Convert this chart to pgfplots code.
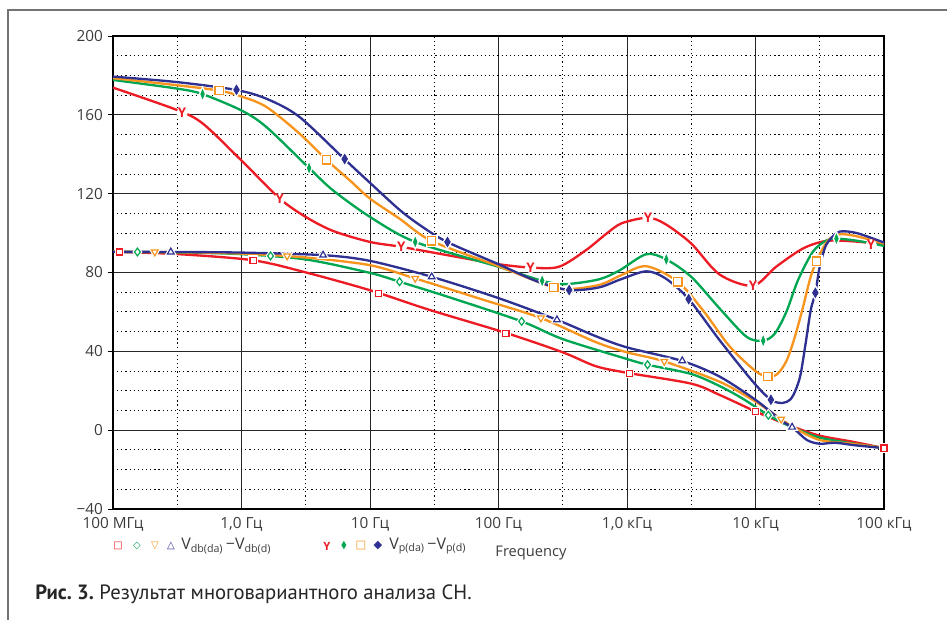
\documentclass[border=0pt]{standalone}
\usepackage{fontspec}
\setmainfont{Open Sans}
\newfontfamily\capfont{PT Sans}
\newfontfamily\symfont{DejaVu Sans}
\usepackage{pgfplots}
\pgfplotsset{compat=1.18}
\definecolor{cred}{HTML}{ED1C24}
\definecolor{cgreen}{HTML}{00A651}
\definecolor{corange}{HTML}{F7941D}
\definecolor{cblue}{HTML}{2E3192}
\definecolor{ctext}{HTML}{3C3C3C}
\pgfplotstableread{
x y
-0.948 90.4
0.09 86.2
1.064 69.2
2.058 49.2
3.02 28.9
4.0 9.5
5.0 -9.1
}\mkRdb
\pgfplotstableread{
x y
-0.81 90.4
0.226 88.4
1.23 75.3
2.18 55.2
3.16 33.2
4.1 7.6
}\mkGdb
\pgfplotstableread{
x y
-0.675 90.4
0.355 88.4
1.352 77
2.33 56.9
3.29 34.9
4.2 5.6
}\mkOdb
\pgfplotstableread{
x y
-0.55 90.4
0.635 88.8
1.48 77.8
2.455 56
3.43 35.2
4.285 1.5
}\mkBdb
\pgfplotstableread{
x y
-0.463 160.9
0.298 117.5
1.244 93
2.25 82.5
3.163 107.8
3.98 73.3
4.9 94
}\mkRp
\pgfplotstableread{
x y
-0.303 170.5
0.526 133
1.352 95.5
2.34 75.8
3.306 86.6
4.06 45.4
4.63 97.2
}\mkGp
\pgfplotstableread{
x y
-0.174 172.3
0.661 137.2
1.48 96
2.43 72.4
3.396 75.3
4.096 27.2
4.476 85.7
}\mkOp
\pgfplotstableread{
x y
-0.039 172.7
0.803 137.6
1.603 95.5
2.55 71.1
3.48 66.5
4.12 15.4
4.466 69.7
}\mkBp
\begin{document}
\begin{tikzpicture}
\begin{scope}[x=0.75pt,y=-0.75pt]
\path[use as bounding box] (0,0) rectangle (947,620);
\draw[black!55, line width=0.8pt] (8,620) -- (8,10) -- (947,10);
\end{scope}
\begin{axis}[
  at={(84.75pt,-381.75pt)}, anchor=south west,
  width=578.25pt, height=354.75pt, scale only axis,
  xmin=-1, xmax=5, ymin=-40, ymax=200,
  xtick={-1,0,1,2,3,4,5},
  xticklabels={100 МГц,{1,0 Гц},10 Гц,100 Гц,{1,0 кГц},10 кГц,100 кГц},
  minor xtick={-0.5,0.5,1.5,2.5,3.5,4.5},
  ytick={-40,0,40,80,120,160,200},
  yticklabels={−40,0,40,80,120,160,200},
  minor ytick={-30,-20,-10,10,20,30,50,60,70,90,100,110,130,140,150,170,180,190},
  grid=both,
  major grid style={black!85, line width=0.6pt},
  minor grid style={black, line width=0.65pt, dash pattern=on 0.9pt off 2.2pt},
  tick align=outside, ytick pos=left, xtick pos=bottom,
  major tick length=4pt, minor tick length=0pt,
  xtick style={draw=none},
  ytick style={black, line width=0.6pt},
  axis line style={black, line width=1.2pt},
  ticklabel style={font=\fontsize{11.5}{13}\selectfont, text=ctext},
  xticklabel style={yshift=1pt},
  every axis plot/.append style={line width=1.75pt},
]
% ---------------- Vdb curves ----------------
\addplot[cred, smooth] coordinates {
(-1.0,90.5) (-0.49,89.3) (0.09,86.2) (0.503,80) (1.0,71) (1.46,61.1)
(2.06,49.3) (2.5,39.5) (2.76,32.4) (3.02,28.9) (3.5,23.6) (3.72,17.9)
(4.0,9.5) (4.2,4) (4.3,1.5) (4.5,-2.8) (4.75,-5.8) (5.0,-9.1)};
\addplot[cgreen, smooth] coordinates {
(-1.0,90.5) (-0.5,90.2) (0.0,89.3) (0.503,86.6) (1.0,79.8) (1.23,75.3)
(1.6,67.8) (2.18,55.2) (2.5,46.2) (3.0,36.1) (3.16,33.2) (3.5,28.5)
(3.72,22.4) (3.9,16) (4.1,7.6) (4.25,2.5) (4.32,0.5) (4.5,-3.8) (4.75,-6.7) (5.0,-9.1)};
\addplot[corange, smooth] coordinates {
(-1.0,90.5) (-0.5,90.3) (0.0,89.6) (0.5,87.6) (1.0,83.7) (1.352,77)
(1.88,66.2) (2.33,56.9) (2.76,44.6) (3.0,39.5) (3.29,34.9) (3.72,24.6)
(4.0,14.5) (4.2,5.6) (4.3,1.2) (4.5,-5) (4.75,-6.9) (5.0,-9.1)};
\addplot[cblue, smooth] coordinates {
(-1.0,90.5) (-0.5,90.4) (0.0,90.1) (0.635,88.8) (1.0,85.9) (1.48,77.8)
(2.0,67) (2.455,56) (2.76,47.6) (3.0,42) (3.43,35.1) (3.72,27.2)
(4.0,15.4) (4.2,5) (4.29,1.3) (4.4,-5) (4.5,-6.9) (4.62,-6.4) (4.78,-7.7) (5.0,-9.1)};
% ---------------- Vp curves ----------------
\addplot[cred, smooth] coordinates {
(-1.0,173.8) (-0.5,162.4) (-0.3,155.5) (0.0,136.8) (0.298,117.5) (0.5,108.2)
(0.712,101.1) (1.0,95.5) (1.244,93) (1.746,87.1) (2.0,84.2) (2.25,82.5)
(2.47,82.9) (2.68,91.3) (2.84,99.7) (2.96,105) (3.163,107.8) (3.3,104.5)
(3.5,94.7) (3.72,79) (3.98,73.3) (4.16,82.9) (4.37,92.2) (4.55,96)
(4.76,95.8) (5.0,94.3)};
\addplot[cgreen, smooth] coordinates {
(-1.0,177.7) (-0.5,173.3) (-0.303,170.5) (0.0,162.2) (0.194,153.8) (0.526,133)
(0.712,121.7) (1.0,108.2) (1.352,95.5) (2.0,82.9) (2.34,75.8) (2.52,74.1)
(2.78,76.5) (2.94,81) (3.15,89.3) (3.306,86.6) (3.5,77.8) (3.72,61.8)
(3.93,47.4) (4.06,45.4) (4.15,49) (4.24,60) (4.33,76) (4.446,90.5)
(4.55,96.2) (4.63,97.2) (4.8,96) (5.0,93.5)};
\addplot[corange, smooth] coordinates {
(-1.0,178.6) (-0.5,175) (-0.174,172.3) (0.0,169.3) (0.194,164) (0.453,150.4)
(0.661,137.2) (0.842,126.8) (1.0,117.5) (1.23,107.3) (1.48,96) (2.0,83.2)
(2.43,72.4) (2.6,71.8) (2.8,74) (2.95,78.5) (3.15,83.2) (3.396,75.3)
(3.59,60.9) (3.8,42.4) (4.0,30) (4.096,27.2) (4.17,28.5) (4.24,35)
(4.30,46) (4.36,60) (4.43,78) (4.476,85.7) (4.53,93) (4.58,97.2)
(4.66,99.4) (4.78,98.5) (5.0,94.7)};
\addplot[cblue, smooth] coordinates {
(-1.0,179.4) (-0.5,176.6) (-0.04,172.6) (0.2,168) (0.45,159) (0.8,137.6)
(1.0,125.5) (1.23,111.8) (1.4,103.5) (1.6,95.5) (2.0,84.2) (2.3,75.5)
(2.55,71.1) (2.78,72.4) (2.95,76.5) (3.15,80.6) (3.3,77) (3.48,66.5)
(3.72,45.7) (3.98,24.6) (4.12,15.4) (4.21,13.8) (4.27,15.5) (4.31,20)
(4.35,28) (4.39,44) (4.43,61) (4.466,69.7) (4.5,83) (4.55,94)
(4.63,100) (4.69,100.9) (4.8,99.8) (5.0,95.2)};
% ---------------- white halos ----------------
\addplot[only marks, mark=square*, mark size=2.3pt, mark options={draw=white, fill=white, line width=2.6pt}] table {\mkRdb};
\addplot[only marks, mark=diamond*, mark size=2.9pt, mark options={draw=white, fill=white, line width=2.6pt}] table {\mkGdb};
\addplot[only marks, mark=triangle*, mark size=2.9pt, mark options={rotate=180, draw=white, fill=white, line width=2.6pt}] table {\mkOdb};
\addplot[only marks, mark=triangle*, mark size=2.9pt, mark options={draw=white, fill=white, line width=2.6pt}] table {\mkBdb};
\addplot[only marks, mark=*, mark size=3.2pt, mark options={draw=white, fill=white, line width=2pt}] table {\mkRp};
\addplot[only marks, mark=diamond*, mark size=3.3pt, mark options={xscale=0.6, draw=white, fill=white, line width=2.6pt}] table {\mkGp};
\addplot[only marks, mark=square*, mark size=3.1pt, mark options={draw=white, fill=white, line width=2.6pt}] table {\mkOp};
\addplot[only marks, mark=diamond*, mark size=3.6pt, mark options={xscale=0.8, draw=white, fill=white, line width=2.6pt}] table {\mkBp};
% ---------------- markers Vdb ----------------
\addplot[only marks, mark=square*, mark size=2.3pt, mark options={draw=cred, fill=white, line width=0.9pt}] table {\mkRdb};
\addplot[only marks, mark=diamond*, mark size=2.9pt, mark options={draw=cgreen, fill=white, line width=0.9pt}] table {\mkGdb};
\addplot[only marks, mark=triangle*, mark size=2.9pt, mark options={rotate=180, draw=corange, fill=white, line width=0.9pt}] table {\mkOdb};
\addplot[only marks, mark=triangle*, mark size=2.9pt, mark options={draw=cblue, fill=white, line width=0.9pt}] table {\mkBdb};
% ---------------- markers Vp ----------------
\addplot[only marks, cred, mark=text, text mark={\fontsize{10}{10}\selectfont\bfseries\textcolor{cred}{Y}}] table {\mkRp};
\addplot[only marks, mark=diamond*, mark size=3.3pt, mark options={xscale=0.55, draw=cgreen, fill=cgreen, line width=0.5pt}] table {\mkGp};
\addplot[only marks, mark=square*, mark size=3.1pt, mark options={draw=corange, fill=white, line width=1pt}] table {\mkOp};
\addplot[only marks, mark=diamond*, mark size=3.6pt, mark options={xscale=0.8, draw=cblue, fill=cblue, line width=0.5pt}] table {\mkBp};
\end{axis}
\begin{scope}[x=0.75pt,y=-0.75pt]
% legend group 1
\node[text=cred, font=\symfont\fontsize{7.5}{7.5}\selectfont] at (118,546) {□};
\node[text=cgreen, font=\symfont\fontsize{7.5}{7.5}\selectfont] at (137,546) {◇};
\node[text=corange, font=\symfont\fontsize{7.5}{7.5}\selectfont] at (155,546) {▽};
\node[text=cblue, font=\symfont\fontsize{7.5}{7.5}\selectfont] at (171,546) {△};
\node[anchor=west, inner sep=0pt, text=ctext, font=\fontsize{12}{13}\selectfont] at (181,546) {V\textsubscript{db(da)}\,−V\textsubscript{db(d)}};
% legend group 2
\node[text=cred, font=\bfseries\fontsize{8.5}{8.5}\selectfont] at (327,546) {Y};
\node[text=cgreen, font=\symfont\fontsize{8.5}{8.5}\selectfont, xscale=0.6] at (344,546) {◆};
\node[text=corange, font=\symfont\fontsize{8.5}{8.5}\selectfont] at (361,546) {□};
\node[text=cblue, font=\symfont\fontsize{8.5}{8.5}\selectfont] at (378,546) {◆};
\node[anchor=west, inner sep=0pt, text=ctext, font=\fontsize{12}{13}\selectfont] at (389,546) {V\textsubscript{p(da)}\,−V\textsubscript{p(d)}};
\node[text=ctext, font=\fontsize{11}{12}\selectfont] at (531,553) {Frequency};
% caption
\node[anchor=base west, inner sep=0pt, font=\capfont\fontsize{15.5}{17}\selectfont, text=black!85] at (35,599) {\textbf{Рис.~3.}\ Результат многовариантного анализа СН.};
\end{scope}
\end{tikzpicture}
\end{document}
